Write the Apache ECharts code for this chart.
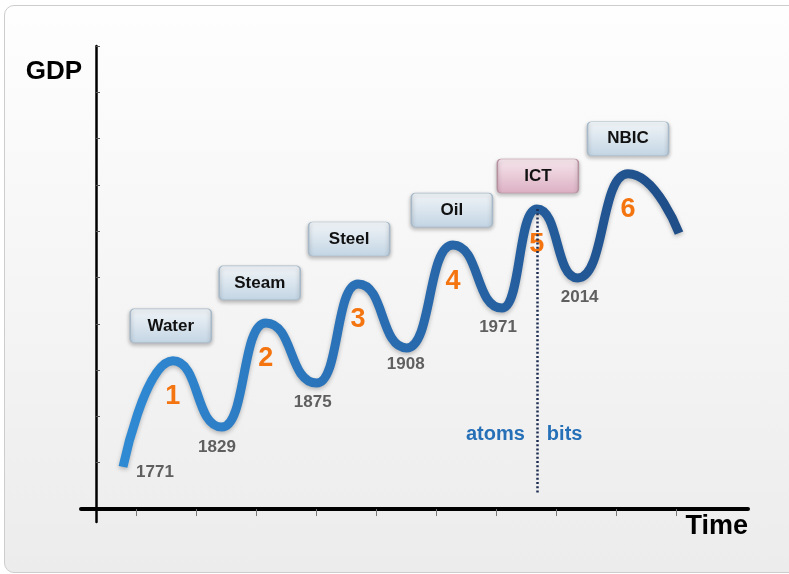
<!DOCTYPE html>
<html>
<head>
<meta charset="utf-8">
<title>GDP waves</title>
<script src="https://cdn.jsdelivr.net/npm/echarts@6/dist/echarts.min.js"></script>
<style>
  html, body { margin: 0; padding: 0; width: 789px; height: 574px; overflow: hidden; background: #ffffff; }
  #frame {
    position: absolute; left: 4px; top: 5px; width: 820px; height: 566px;
    border: 1.5px solid #cdcdcd; border-radius: 10px;
    background: linear-gradient(to bottom, #fefefe 0%, #f6f6f6 45%, #ececec 100%);
  }
  #chart { position: absolute; left: 0; top: 0; width: 789px; height: 574px; }
</style>
</head>
<body>
<div id="frame"></div>
<div id="chart"></div>
<script>
// Long-wave curve: start, then alternating peaks and troughs, then the tail
const curveX = [0.45, 1.28, 2.10, 2.83, 3.68, 4.37, 5.18, 5.95, 6.77, 7.35, 8.03, 8.87, 9.72];
const curveY = [0.91, 3.20, 1.77, 4.02, 2.72, 4.86, 3.48, 5.70, 4.34, 6.48, 4.99, 7.24, 5.96];

// Years marking the start of each wave (start point and troughs)
const years = ['1771', '1829', '1875', '1908', '1971', '2014'];
// Leading technology of each wave (at the peaks)
const eras = ['Water', 'Steam', 'Steel', 'Oil', 'ICT', 'NBIC'];
const waveNumbers = ['1', '2', '3', '4', '5', '6'];

// Divider between the material and the digital economy
const dividerEra = 'ICT';
const dividerBottom = 0.35;
const dividerLabelLevel = 1.6;
const sideLabels = ['atoms', 'bits'];

// Axis tick positions
const xTicks = [0.667, 1.667, 2.667, 3.667, 4.667, 5.667, 6.667, 7.667, 8.667, 9.667];
const yTicks = [1, 2, 3, 4, 5, 6, 7, 8, 9, 10];

const FONT = '"Liberation Sans", Arial, Helvetica, sans-serif';

const curve = curveX.map((x, i) => [x, curveY[i]]);
const peakIdx = curve.map((_, i) => i).filter(i => i % 2 === 1 && i < curve.length - 1);
const startIdx = curve.map((_, i) => i).filter(i => i % 2 === 0 && i < curve.length - 1);

// Small nudges so each tag sits where it reads best above its crest
const tagNudge = [[-2, -35], [-6, -40], [-9, -45], [-1, -35], [1, -33], [0, -35]];
const yearNudge = [[32, 5], [-5, 20], [-4, 19], [-1, 16], [-4, 19], [2, 19]];

const tagPath = 'path://M4,0H77A4,4,0,0,1,81,4V30A4,4,0,0,1,77,34H4A4,4,0,0,1,0,30V4A4,4,0,0,1,4,0Z';
const blueTag = new echarts.graphic.LinearGradient(0, 0, 0, 1, [
  { offset: 0, color: '#f1f5f8' }, { offset: 1, color: '#c3d5e4' }
]);
const pinkTag = new echarts.graphic.LinearGradient(0, 0, 0, 1, [
  { offset: 0, color: '#f6e6ec' }, { offset: 1, color: '#dcb0c3' }
]);

const dividerI = peakIdx[eras.indexOf(dividerEra)];
const dividerX = curve[dividerI][0];

const chart = echarts.init(document.getElementById('chart'), null, { renderer: 'canvas' });
chart.setOption({
  backgroundColor: 'transparent',
  animation: false,
  grid: { left: 81, right: 41, top: 46, bottom: 52 },
  xAxis: {
    type: 'value', min: -0.25, max: 10.87,
    axisLine: { onZero: true, lineStyle: { color: '#000', width: 4 } },
    axisTick: { show: true, customValues: xTicks, length: 7, lineStyle: { color: '#777', width: 1 } },
    axisLabel: { show: false },
    splitLine: { show: false },
    name: 'Time', nameLocation: 'end', nameGap: 0,
    nameTextStyle: { fontFamily: FONT, fontSize: 27, fontWeight: 'bold', color: '#000',
      align: 'right', verticalAlign: 'top', padding: [4, 0, 0, 0] }
  },
  yAxis: {
    type: 'value', min: -0.28, max: 10,
    axisLine: { onZero: true, lineStyle: { color: '#000', width: 2.5 } },
    axisTick: { show: true, inside: true, customValues: yTicks, length: 4, lineStyle: { color: '#555', width: 1 } },
    axisLabel: { show: false },
    splitLine: { show: false },
    name: 'GDP', nameLocation: 'end', nameGap: -26,
    nameTextStyle: { fontFamily: FONT, fontSize: 26, fontWeight: 'bold', color: '#000',
      align: 'right', verticalAlign: 'middle', padding: [0, 14, 0, 0] }
  },
  series: [
    {
      // dotted divider and its two side labels
      type: 'scatter', z: 1, symbolSize: 0, itemStyle: { opacity: 1 },
      data: [
        { value: [dividerX, dividerLabelLevel], label: { formatter: sideLabels[0], position: 'left', distance: 12 } },
        { value: [dividerX, dividerLabelLevel], label: { formatter: sideLabels[1], position: 'right', distance: 10 } }
      ],
      label: { show: true, fontFamily: FONT, fontSize: 20, fontWeight: 'bold', color: '#2670b8' },
      markLine: {
        silent: true, symbol: 'none', label: { show: false },
        lineStyle: { color: '#1c2d52', width: 2.5, type: [2, 2.2] },
        data: [[{ coord: [dividerX, curve[dividerI][1]] }, { coord: [dividerX, dividerBottom] }]]
      }
    },
    {
      type: 'line', z: 3, data: curve, symbol: 'none',
      smooth: 0.55, smoothMonotone: 'x',
      lineStyle: {
        width: 9, cap: 'butt',
        color: new echarts.graphic.LinearGradient(0, 0, 1, 0, [
          { offset: 0, color: '#2f8ad4' }, { offset: 0.45, color: '#2a6eb3' }, { offset: 1, color: '#1f4d87' }
        ]),
        shadowColor: 'rgba(0,0,0,0.25)', shadowBlur: 4, shadowOffsetY: 2
      }
    },
    {
      // wave numbers under each crest
      type: 'scatter', z: 4, symbolSize: 0, itemStyle: { opacity: 1 },
      data: peakIdx.map((i, k) => ({ value: curve[i], name: waveNumbers[k] })),
      label: { show: true, position: 'inside', offset: [0, 36], formatter: '{b}',
        fontFamily: FONT, fontSize: 27, fontWeight: 'bold', color: '#f47410' }
    },
    {
      // year labels at the start of each wave
      type: 'scatter', z: 4, symbolSize: 0, itemStyle: { opacity: 1 },
      data: startIdx.map((i, k) => ({ value: curve[i], name: years[k], label: { offset: yearNudge[k] } })),
      label: { show: true, position: 'inside', formatter: '{b}',
        fontFamily: FONT, fontSize: 17, fontWeight: 'bold', color: '#5f5f5f' }
    },
    {
      // technology tags above the crests
      type: 'scatter', z: 5, symbol: tagPath, symbolSize: [81, 34],
      data: peakIdx.map((i, k) => ({
        value: curve[i], name: eras[k], symbolOffset: tagNudge[k],
        itemStyle: eras[k] === dividerEra
          ? { color: pinkTag, borderColor: '#b6919f' }
          : { color: blueTag, borderColor: '#a7b9c8' }
      })),
      itemStyle: { opacity: 1, borderWidth: 1, shadowColor: 'rgba(0,0,0,0.28)', shadowBlur: 4, shadowOffsetY: 2 },
      label: { show: true, position: 'inside', formatter: '{b}',
        fontFamily: FONT, fontSize: 17, fontWeight: 'bold', color: '#111' }
    }
  ]
});
</script>
</body>
</html>
